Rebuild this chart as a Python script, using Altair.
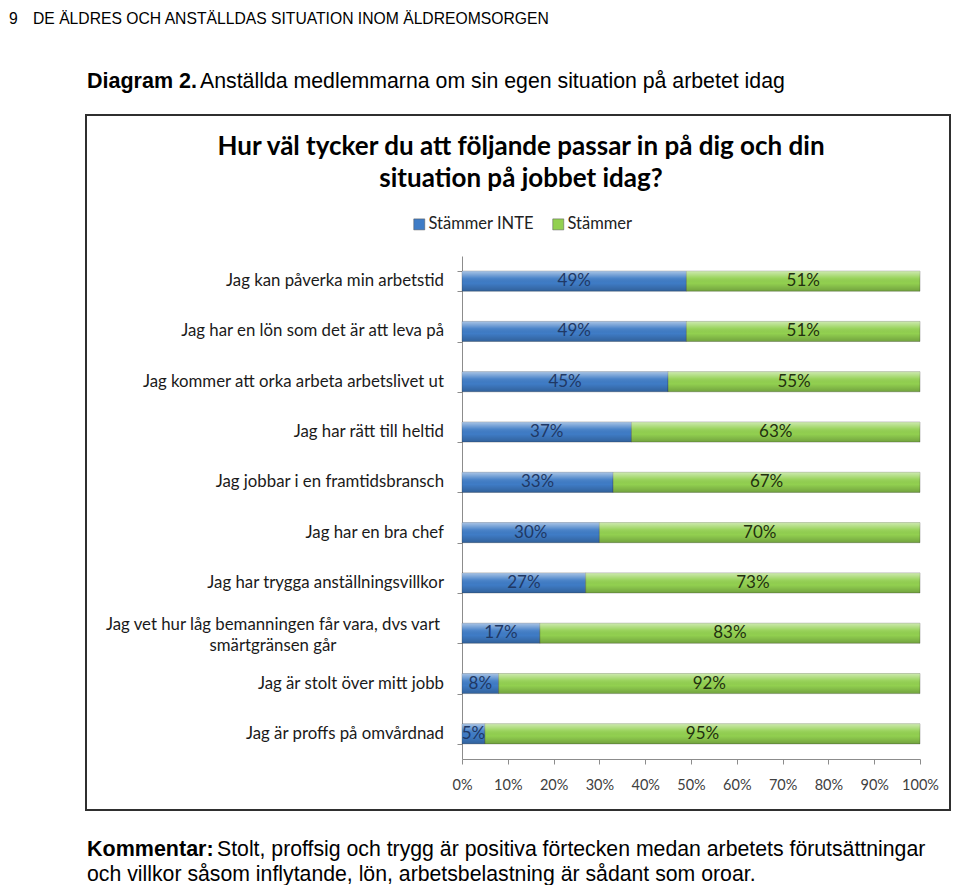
import altair as alt
import pandas as pd

categories = [
    "Jag kan påverka min arbetstid",
    "Jag har en lön som det är att leva på",
    "Jag kommer att orka arbeta arbetslivet ut",
    "Jag har rätt till heltid",
    "Jag jobbar i en framtidsbransch",
    "Jag har en bra chef",
    "Jag har trygga anställningsvillkor",
    "Jag vet hur låg bemanningen får vara, dvs vart\nsmärtgränsen går",
    "Jag är stolt över mitt jobb",
    "Jag är proffs på omvårdnad",
]
stammer_inte = [49, 49, 45, 37, 33, 30, 27, 17, 8, 5]
stammer = [51, 51, 55, 63, 67, 70, 73, 83, 92, 95]
series = ["Stämmer INTE", "Stämmer"]
x_ticks = [0, 10, 20, 30, 40, 50, 60, 70, 80, 90, 100]

page_header_num = "9"
page_header = "DE ÄLDRES OCH ANSTÄLLDAS SITUATION INOM ÄLDREOMSORGEN"
diagram_bold = "Diagram 2."
diagram_text = "Anställda medlemmarna om sin egen situation på arbetet idag"
chart_title = ["Hur väl tycker du att följande passar in på dig och din", "situation på jobbet idag?"]
comment_bold = "Kommentar:"
comment_1 = "Stolt, proffsig och trygg är positiva förtecken medan arbetets förutsättningar"
comment_2 = "och villkor såsom inflytande, lön, arbetsbelastning är sådant som oroar."

rows = []
for c, a, b in zip(categories, stammer_inte, stammer):
    rows.append({"cat": c, "s": series[0], "v": a, "o": 0})
    rows.append({"cat": c, "s": series[1], "v": b, "o": 1})
df = pd.DataFrame(rows)
single_lbl = pd.DataFrame({"cat": [c for c in categories if "\n" not in c]})
multi_lbl = pd.DataFrame({"cat": [c for c in categories if "\n" in c]})
one = pd.DataFrame({"k": [0]})

CHART_FONT = "Lato"
PAGE_FONT = "Liberation Sans"

yenc = alt.Y("cat:N", sort=categories,
             scale=alt.Scale(domain=categories, paddingInner=0.6, paddingOuter=0.3),
             axis=alt.Axis(labels=False, title=None, tickBand="extent", tickSize=5,
                           domainColor="#8c8c8c", tickColor="#8c8c8c", domainWidth=1))

base = alt.Chart(df).transform_stack(
    stack="v", groupby=["cat"], as_=["x0", "x1"], sort=[alt.SortField("o", order="ascending")]
).transform_calculate(mid="(datum.x0 + datum.x1) / 2", lab="datum.v + '%'")

xenc = alt.X("x0:Q", scale=alt.Scale(domain=[0, 100], nice=False),
             axis=alt.Axis(values=x_ticks, labelExpr="datum.value + '%'", title=None, grid=False,
                           tickSize=5, domainColor="#8c8c8c", tickColor="#8c8c8c",
                           labelFont=CHART_FONT, labelFontSize=14.5, labelColor="#404040",
                           labelFlush=False, labelPadding=14))

bars = base.mark_bar(stroke="#2b2b2b", strokeOpacity=0.35, strokeWidth=0.8).encode(
    y=yenc, x=xenc, x2="x1:Q",
    color=alt.Color("s:N", sort=series,
                    scale=alt.Scale(domain=series, range=["#3F7CC6", "#92D050"]),
                    legend=alt.Legend(title=None, orient="none", legendX=-51, legendY=-40,
                                      direction="horizontal", symbolType="square", symbolSize=121,
                                      symbolStrokeColor="#555", symbolStrokeWidth=0.5,
                                      labelFont=CHART_FONT, labelFontSize=16.5, labelColor="#222",
                                      labelOffset=1, columnPadding=16, padding=0)),
)

gloss = base.mark_bar(
    color=alt.LinearGradient(
        gradient="linear", x1=0, y1=0, x2=0, y2=1,
        stops=[alt.GradientStop(offset=0, color="rgba(255,255,255,0.55)"),
               alt.GradientStop(offset=0.35, color="rgba(255,255,255,0.08)"),
               alt.GradientStop(offset=0.6, color="rgba(0,0,0,0)"),
               alt.GradientStop(offset=1, color="rgba(0,0,0,0.22)")])
).encode(y=yenc, x=alt.X("x0:Q"), x2="x1:Q")

vals = base.mark_text(font=CHART_FONT, fontSize=17, baseline="middle", align="center").encode(
    y=yenc, x=alt.X("mid:Q"),
    text="lab:N",
    color=alt.condition("datum.s == 'Stämmer INTE'", alt.value("#1F3864"), alt.value("#22300f")),
)

ylab1 = alt.Chart(single_lbl).mark_text(font=CHART_FONT, fontSize=16.8, align="right",
                                        baseline="middle", color="#1a1a1a").encode(
    y=yenc, x=alt.value(-18), text="cat:N")
ylab2 = alt.Chart(multi_lbl).mark_text(font=CHART_FONT, fontSize=16.8, align="center",
                                       baseline="middle", color="#1a1a1a", lineBreak="\n",
                                       lineHeight=21, dy=-8).encode(
    y=yenc, x=alt.value(-189), text="cat:N")

box = alt.Chart(one).mark_rect(filled=False, stroke="#2f2f2f", strokeWidth=2).encode(
    x=alt.value(-376), x2=alt.value(488), y=alt.value(-141), y2=alt.value(554))

def txt(s, x, y, font, size, weight="normal", align="left", baseline="alphabetic", color="#000"):
    return alt.Chart(pd.DataFrame({"t": [s]})).mark_text(
        font=font, fontSize=size, fontWeight=weight, align=align, baseline=baseline, color=color
    ).encode(x=alt.value(x), y=alt.value(y), text="t:N")

texts = [
    txt(page_header_num, -453, -232, PAGE_FONT, 15.7),
    txt(page_header, -429, -232, PAGE_FONT, 15.7),
    txt(diagram_bold, -375, -168, PAGE_FONT, 21.5, "bold"),
    txt(diagram_text, -262, -168, PAGE_FONT, 21.3),
    txt(chart_title[0], 59, -109, CHART_FONT, 26, "bold", "center", "middle"),
    txt(chart_title[1], 59, -77, CHART_FONT, 26, "bold", "center", "middle"),
    txt(comment_bold, -375, 600, PAGE_FONT, 21.5, "bold"),
    txt(comment_1, -245, 600, PAGE_FONT, 21.25),
    txt(comment_2, -375, 625, PAGE_FONT, 21.25),
]

chart = alt.layer(box, bars, gloss, vals, ylab1, ylab2, *texts).properties(
    width=458, height=503,
    autosize=alt.AutoSizeParams(type="none"),
    padding={"left": 454, "top": 248, "right": 32, "bottom": 126},
    background="white",
).configure_view(stroke=None)

chart.save("out.html", embed_options={"renderer": "svg", "actions": False})
